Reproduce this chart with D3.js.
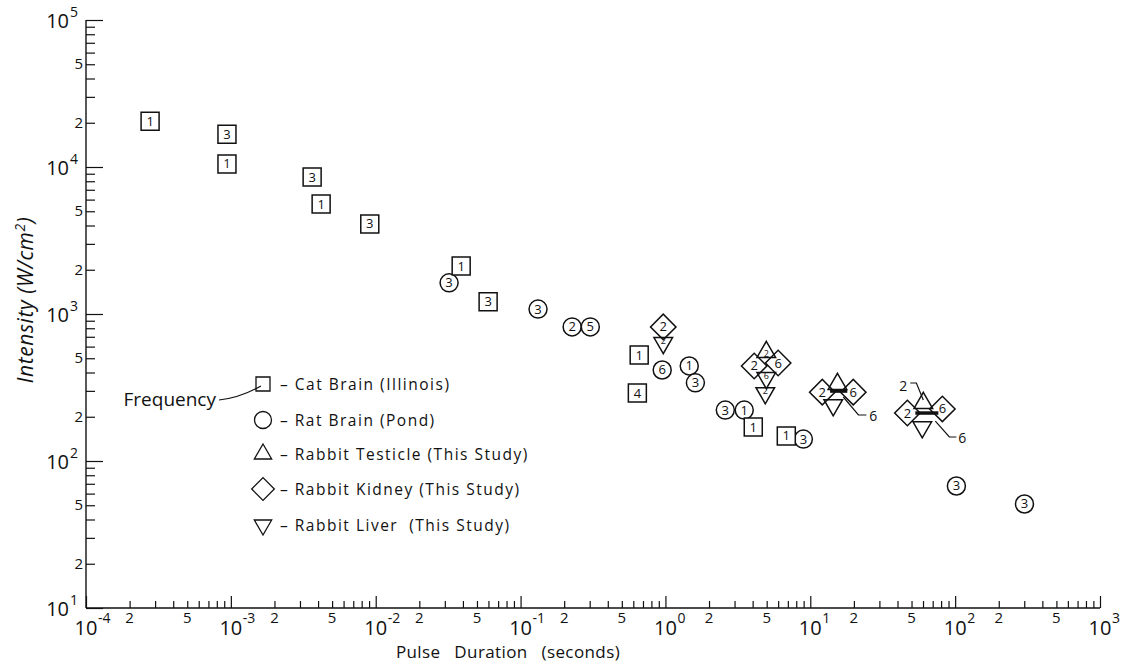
<!DOCTYPE html>
<html><head><meta charset="utf-8">
<script src="https://cdn.jsdelivr.net/npm/d3@7"></script>
<style>
html,body{margin:0;padding:0;background:#fff;}
svg{display:block;font-family:"Open Sans","Liberation Sans",sans-serif;}
</style></head><body>
<svg id="chart" width="1123" height="664"></svg>
<script>
// ---------- DATA ----------
// Cat Brain (Illinois) - squares
const catX = [2.77e-4, 9.4e-4, 9.4e-4, 3.64e-3, 4.2e-3, 9.1e-3, 0.0389, 0.0597, 0.659, 0.64, 4.04, 6.83];
const catY = [20500, 16700, 10500, 8550, 5600, 4100, 2120, 1210, 526, 290, 170, 148];
const catF = ["1","3","1","3","1","3","1","3","1","4","1","1"];
// Rat Brain (Pond) - circles
const ratX = [0.0321, 0.132, 0.227, 0.303, 0.95, 1.46, 1.61, 2.59, 3.5, 8.96, 102, 301];
const ratY = [1630, 1080, 817, 817, 416, 443, 340, 222, 222, 141, 67.6, 51];
const ratF = ["3","3","2","5","6","1","3","3","1","3","3","3"];
// Rabbit Testicle (This Study) - up triangles
const testX = [4.97, 15.4, 60.3];
const testY = [551, 334, 248];
const testF = ["2","",""];
// Rabbit Kidney (This Study) - diamonds
const kidX = [0.966, 4.1, 6.0, 12.1, 19.8, 46.8, 81.6];
const kidY = [817, 443, 464, 294, 294, 212, 226];
const kidF = ["2","2","6","2","6","2","6"];
// Rabbit Liver (This Study) - down triangles
const livX = [0.966, 4.97, 4.89, 14.4, 59.3];
const livY = [635, 367, 290, 240, 170];
const livF = ["2","6","2","",""];
// annotations (frequency call-outs), in data units
const noteText = ["6", "2", "6"];
const noteTX = [27.2, 43.9, 112];
const noteTY = [202, 323.6, 143.4];
const noteLineX = [[16.9, 21.5, 24.4], [49.0, 54.0, 60.3], [73.0, 91.2, 102]];
const noteLineY = [[272.5, 205.6, 205.6], [339.4, 339.4, 260], [187, 145.6, 145.6]];
const barX = [[13.7, 18.0], [53.1, 76.6]];
const barY = [299, 212];
// axes
const xDomain = [1e-4, 1e3];
const yDomain = [10, 1e5];
const xDecadeExp = ["-4","-3","-2","-1","0","1","2","3"];
const yDecadeExp = ["1","2","3","4","5"];
const minorLabels = ["2","5"];
const legendLabels = ["– Cat Brain (Illinois)", "– Rat Brain (Pond)", "– Rabbit Testicle (This Study)", "– Rabbit Kidney (This Study)", "– Rabbit Liver  (This Study)"];

// ---------- CHART ----------
const svg = d3.select("#chart");
const L = 86, R = 1100, T = 20, B = 608;
const x = d3.scaleLog().domain(xDomain).range([L, R]);
const y = d3.scaleLog().domain(yDomain).range([B, T]);
const ink = "#111";

const xDec = xDecadeExp.map(e => Math.pow(10, +e));
const yDec = yDecadeExp.map(e => Math.pow(10, +e));
const xMinor = [], yMinor = [];
xDec.slice(0, -1).forEach(d => { for (let m = 2; m <= 9; m++) xMinor.push(m * d); });
yDec.slice(0, -1).forEach(d => { for (let m = 2; m <= 9; m++) yMinor.push(m * d); });

function clean(g){ g.select(".domain").remove(); g.selectAll("line").attr("stroke", ink).attr("stroke-width", 1.2); g.selectAll("text").remove(); }

// x ticks (inward)
svg.append("g").attr("transform", `translate(0,${B})`)
  .call(d3.axisBottom(x).tickValues(xDec).tickSize(-12).tickFormat("")).call(clean);
svg.append("g").attr("transform", `translate(0,${B})`)
  .call(d3.axisBottom(x).tickValues(xMinor).tickSize(-7).tickFormat("")).call(clean);
// y ticks (inward)
svg.append("g").attr("transform", `translate(${L},0)`)
  .call(d3.axisLeft(y).tickValues(yDec).tickSize(-17).tickFormat("")).call(clean);
svg.append("g").attr("transform", `translate(${L},0)`)
  .call(d3.axisLeft(y).tickValues(yMinor).tickSize(-9).tickFormat("")).call(clean);
// axis lines
svg.append("line").attr("x1", L).attr("x2", R).attr("y1", B).attr("y2", B).attr("stroke", ink).attr("stroke-width", 1.4);
svg.append("line").attr("x1", L).attr("x2", L).attr("y1", T).attr("y2", B).attr("stroke", ink).attr("stroke-width", 1.4);

// x labels
xDec.forEach((v, i) => {
  svg.append("text").attr("x", x(v)).attr("y", 635).attr("text-anchor", "middle")
    .attr("font-size", 20).attr("fill", ink).text("10");
  svg.append("text").attr("x", x(v) + 12).attr("y", 623).attr("text-anchor", "start")
    .attr("font-size", 14).attr("fill", ink).text(xDecadeExp[i]);
});
xDec.slice(0, -1).forEach(d => {
  minorLabels.forEach(m => {
    svg.append("text").attr("x", x(+m * d)).attr("y", 623).attr("text-anchor", "middle")
      .attr("font-size", 15).attr("fill", ink).text(m);
  });
});
// y labels
yDec.forEach((v, i) => {
  svg.append("text").attr("x", 69).attr("y", y(v) + 8).attr("text-anchor", "end")
    .attr("font-size", 20).attr("fill", ink).text("10");
  svg.append("text").attr("x", 70).attr("y", y(v) - 3).attr("text-anchor", "start")
    .attr("font-size", 14).attr("fill", ink).text(yDecadeExp[i]);
});
yDec.slice(0, -1).forEach(d => {
  minorLabels.forEach(m => {
    svg.append("text").attr("x", 83).attr("y", y(+m * d) + 5).attr("text-anchor", "end")
      .attr("font-size", 15).attr("fill", ink).text(m);
  });
});
// axis titles
svg.append("text").attr("x", 508).attr("y", 658).attr("text-anchor", "middle")
  .attr("font-size", 17).attr("word-spacing", 9).attr("letter-spacing", 0.4).attr("fill", ink).text("Pulse Duration (seconds)");
const yt = svg.append("text").attr("transform", "translate(33,300) rotate(-90)").attr("text-anchor", "middle")
  .attr("font-size", 21).attr("letter-spacing", 0.6).attr("font-style", "italic").attr("fill", ink);
yt.append("tspan").text("Intensity (W/cm");
yt.append("tspan").attr("font-size", 14).attr("dy", -8).text("2");
yt.append("tspan").attr("dy", 8).text(")");

// symbols
const sym = {
  square: d3.symbol().type(d3.symbolSquare).size(18 * 18),
  circle: d3.symbol().type(d3.symbolCircle).size(Math.PI * 9 * 9),
  diamond: d3.symbol().type(d3.symbolSquare).size(18 * 18),
  tri: d3.symbol().type(d3.symbolTriangle).size(150)
};
function drawSeries(xs, ys, fs, shape, rot, fill, dy) {
  const g = svg.append("g");
  const pts = xs.map((v, i) => ({ x: v, y: ys[i], f: fs[i] }));
  g.selectAll("path").data(pts).join("path")
    .attr("d", sym[shape]())
    .attr("transform", d => `translate(${x(d.x)},${y(d.y)}) rotate(${rot})`)
    .attr("fill", fill).attr("stroke", ink).attr("stroke-width", 1.5);
  g.selectAll("text").data(pts).join("text")
    .attr("x", d => x(d.x)).attr("y", d => y(d.y) + dy)
    .attr("text-anchor", "middle").attr("font-size", shape === "tri" ? 9 : 13)
    .attr("fill", ink).text(d => d.f);
}
drawSeries(ratX, ratY, ratF, "circle", 0, "#fff", 4.5);
drawSeries(catX, catY, catF, "square", 0, "#fff", 4.5);
drawSeries(testX, testY, testF, "tri", 0, "none", 5);
drawSeries(livX, livY, livF, "tri", 180, "none", 1);
drawSeries(kidX, kidY, kidF, "diamond", 45, "none", 4.5);

// cluster bars
barX.forEach((bx, i) => {
  svg.append("line").attr("x1", x(bx[0])).attr("x2", x(bx[1])).attr("y1", y(barY[i])).attr("y2", y(barY[i]))
    .attr("stroke", ink).attr("stroke-width", 3.5);
});
// call-outs
const line = d3.line().x(d => x(d[0])).y(d => y(d[1]));
noteText.forEach((t, i) => {
  svg.append("path").attr("d", line(noteLineX[i].map((v, j) => [v, noteLineY[i][j]])))
    .attr("fill", "none").attr("stroke", ink).attr("stroke-width", 1.2);
  svg.append("text").attr("x", x(noteTX[i])).attr("y", y(noteTY[i]) + 5).attr("text-anchor", "middle")
    .attr("font-size", 14).attr("fill", ink).text(t);
});

// legend
const lgX = 263, lgY = [384, 420, 454, 489, 525];
const lgSym = [
  d3.symbol().type(d3.symbolSquare).size(14 * 14),
  d3.symbol().type(d3.symbolCircle).size(Math.PI * 8.5 * 8.5),
  d3.symbol().type(d3.symbolTriangle).size(130),
  d3.symbol().type(d3.symbolSquare).size(16 * 16),
  d3.symbol().type(d3.symbolTriangle).size(130)
];
const lgRot = [0, 0, 0, 45, 180];
legendLabels.forEach((lab, i) => {
  svg.append("path").attr("d", lgSym[i]()).attr("transform", `translate(${lgX},${lgY[i]}) rotate(${lgRot[i]})`)
    .attr("fill", "none").attr("stroke", ink).attr("stroke-width", 1.3);
  svg.append("text").attr("x", 280).attr("y", lgY[i] + 5.5).attr("font-size", 15.5)
    .attr("letter-spacing", 1.5).attr("fill", ink).attr("xml:space", "preserve").text(lab);
});
svg.append("text").attr("x", 216).attr("y", 406).attr("text-anchor", "end").attr("font-size", 19)
  .attr("fill", ink).text("Frequency");
svg.append("path").attr("d", `M219,400 Q240,398 ${lgX - 2},${lgY[0] + 2}`).attr("fill", "none")
  .attr("stroke", ink).attr("stroke-width", 1.1);
</script>
</body></html>
